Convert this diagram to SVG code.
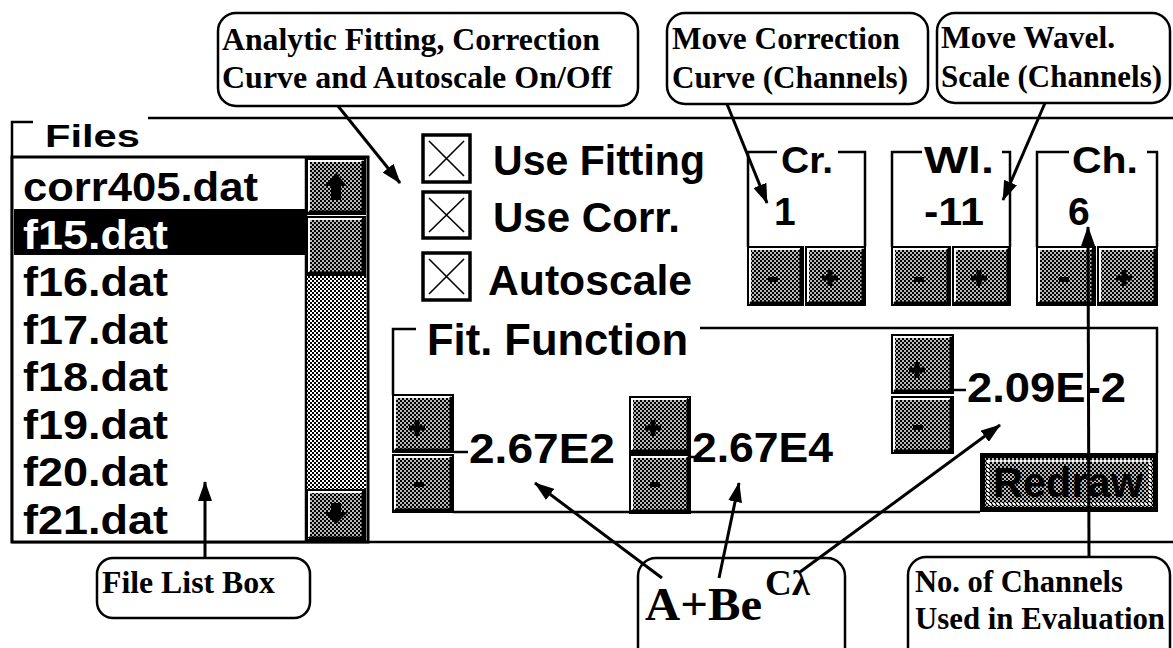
<svg xmlns="http://www.w3.org/2000/svg" width="1173" height="648" viewBox="0 0 1173 648">
<defs>
<pattern id="dw" width="4" height="4" patternUnits="userSpaceOnUse"><rect width="4" height="4" fill="#fff"/><rect width="2" height="2" fill="#000"/><rect x="2" y="2" width="2" height="2" fill="#000"/></pattern>
<pattern id="dg" width="4" height="4" patternUnits="userSpaceOnUse"><rect width="4" height="4" fill="#b8b8b8"/><rect width="2" height="2" fill="#000"/><rect x="2" y="2" width="2" height="2" fill="#000"/></pattern>
<marker id="ah" viewBox="0 0 20 14" refX="19" refY="7" markerWidth="20" markerHeight="14" markerUnits="userSpaceOnUse" orient="auto"><path d="M0,0 L20,7 L0,14 z" fill="#000"/></marker>
<style>
.ln{stroke:#000;stroke-width:2.5;fill:none}
.bf{fill:url(#dg);stroke:#000;stroke-width:2}
.hi{stroke:#fff;stroke-width:2;fill:none}
.sh{stroke:#000;stroke-width:3;fill:none}
.gl{fill:#000}
.ui{font-family:"Liberation Sans",Arial,sans-serif;font-weight:bold;fill:#000}
.nv{font-family:"Liberation Sans",Arial,sans-serif;font-weight:bold;fill:#000;font-size:42px}
.cap{font-family:"Liberation Serif","Times New Roman",serif;font-weight:bold;font-size:31px;fill:#000}
.co{fill:#fff;stroke:#000;stroke-width:2.5}
.cb{fill:#fff;stroke:#000;stroke-width:3.5}
.cx{stroke:#000;stroke-width:1.6;fill:none}
.cn{stroke:#000;stroke-width:3;fill:none}
.fl{font-size:41px}
</style>
</defs>
<rect width="1173" height="648" fill="#fff"/>

<g id="window-frame">
<path class="ln" d="M12,542 V122 H33 M148,118 H1173 M12,542 H1173"/>
<text class="ui" x="45" y="147" font-size="31" textLength="95" lengthAdjust="spacingAndGlyphs">Files</text>
</g>

<g id="file-list">
<rect x="12" y="157" width="356" height="385" fill="#fff" stroke="#000" stroke-width="3"/>
<rect x="14" y="209" width="291" height="46" fill="#000"/>
<line class="ln" x1="306" y1="157" x2="306" y2="542"/>
<text class="ui fl" x="23" y="201" textLength="235" lengthAdjust="spacingAndGlyphs">corr405.dat</text>
<text class="ui fl" x="23" y="248.5" textLength="145" lengthAdjust="spacingAndGlyphs" style="fill:#fff">f15.dat</text>
<text class="ui fl" x="23" y="296" textLength="145" lengthAdjust="spacingAndGlyphs">f16.dat</text>
<text class="ui fl" x="23" y="343.5" textLength="145" lengthAdjust="spacingAndGlyphs">f17.dat</text>
<text class="ui fl" x="23" y="391" textLength="145" lengthAdjust="spacingAndGlyphs">f18.dat</text>
<text class="ui fl" x="23" y="438.5" textLength="145" lengthAdjust="spacingAndGlyphs">f19.dat</text>
<text class="ui fl" x="23" y="486" textLength="145" lengthAdjust="spacingAndGlyphs">f20.dat</text>
<text class="ui fl" x="23" y="533.5" textLength="145" lengthAdjust="spacingAndGlyphs">f21.dat</text>
<rect x="307" y="275" width="59" height="215" fill="url(#dw)"/>
<rect class="bf" x="307" y="159" width="58" height="55"/><path class="hi" d="M309,211 V161 H362"/><path class="sh" d="M363,161 V212 H309"/>
<path class="gl" d="M336,173 L347,186 H341 V200 H331 V186 H325 z"/>
<rect class="bf" x="307" y="217" width="58" height="58"/><path class="hi" d="M309,272 V219 H362"/><path class="sh" d="M363,219 V273 H309"/>
<rect class="bf" x="307" y="490" width="58" height="50"/><path class="hi" d="M309,537 V492 H362"/><path class="sh" d="M363,492 V538 H309"/>
<path class="gl" d="M331,503 H341 V512 H348 L336,524 L324,512 H331 z"/>
</g>

<g id="checkboxes">
<rect class="cb" x="423" y="135" width="47" height="47"/><path class="cx" d="M429,141 L464,176 M464,141 L429,176"/>
<text class="ui" x="493" y="175" font-size="42" textLength="212" lengthAdjust="spacingAndGlyphs">Use Fitting</text>
<rect class="cb" x="423" y="192" width="47" height="46"/><path class="cx" d="M429,198 L464,232 M464,198 L429,232"/>
<text class="ui" x="493" y="232" font-size="42" textLength="187" lengthAdjust="spacingAndGlyphs">Use Corr.</text>
<rect class="cb" x="423" y="253" width="47" height="47"/><path class="cx" d="M429,259 L464,294 M464,259 L429,294"/>
<text class="ui" x="488" y="295" font-size="42" textLength="204" lengthAdjust="spacingAndGlyphs">Autoscale</text>
</g>

<g id="cr-control">
<path class="ln" d="M777,152 H748 V247 M838,152 H865 V247"/>
<text class="ui" x="781" y="173" font-size="36" textLength="52" lengthAdjust="spacingAndGlyphs">Cr.</text>
<text class="ui" x="774" y="225" font-size="39">1</text>
<rect class="bf" x="748" y="247" width="55" height="58"/><path class="hi" d="M750,302 V249 H800"/><path class="sh" d="M801,249 V303 H750"/>
<rect class="gl" x="768" y="277" width="10" height="5"/>
<rect class="bf" x="806" y="247" width="59" height="58"/><path class="hi" d="M808,302 V249 H862"/><path class="sh" d="M863,249 V303 H808"/>
<path class="gl" d="M822,275.5 h16 v5 h-16z M827.5,270 h5 v16 h-5z"/>
</g>

<g id="wl-control">
<path class="ln" d="M922,152 H892 V247 M1002,152 H1010 V247"/>
<text class="ui" x="924" y="173" font-size="36" textLength="70" lengthAdjust="spacingAndGlyphs">Wl.</text>
<text class="ui" x="924" y="225" font-size="39" textLength="60" lengthAdjust="spacingAndGlyphs">-11</text>
<rect class="bf" x="892" y="247" width="58" height="58"/><path class="hi" d="M894,302 V249 H947"/><path class="sh" d="M948,249 V303 H894"/>
<rect class="gl" x="914" y="277" width="10" height="5"/>
<rect class="bf" x="953" y="247" width="57" height="58"/><path class="hi" d="M955,302 V249 H1007"/><path class="sh" d="M1008,249 V303 H955"/>
<path class="gl" d="M971,275.5 h16 v5 h-16z M976.5,270 h5 v16 h-5z"/>
</g>

<g id="ch-control">
<path class="ln" d="M1069,152 H1037 V247 M1147,152 H1157 V247"/>
<text class="ui" x="1072" y="173" font-size="36" textLength="66" lengthAdjust="spacingAndGlyphs">Ch.</text>
<text class="ui" x="1068" y="225" font-size="39">6</text>
<rect class="bf" x="1037" y="247" width="58" height="58"/><path class="hi" d="M1039,302 V249 H1092"/><path class="sh" d="M1093,249 V303 H1039"/>
<rect class="gl" x="1059" y="277" width="10" height="5"/>
<rect class="bf" x="1098" y="247" width="59" height="58"/><path class="hi" d="M1100,302 V249 H1154"/><path class="sh" d="M1155,249 V303 H1100"/>
<path class="gl" d="M1116,275.5 h16 v5 h-16z M1121.5,270 h5 v16 h-5z"/>
</g>

<g id="fit-function">
<path class="ln" d="M416,329 H393 V395 M700,328 H1157 V453 M453,512 H980"/>
<text class="ui" x="427" y="355" font-size="44" textLength="261" lengthAdjust="spacingAndGlyphs">Fit. Function</text>
<g id="param-a">
<rect class="bf" x="393" y="395" width="60" height="57"/><path class="hi" d="M395,449 V397 H450"/><path class="sh" d="M451,397 V450 H395"/>
<path class="gl" d="M409,425.5 h16 v5 h-16z M414.5,420 h5 v16 h-5z"/>
<rect class="bf" x="393" y="455" width="60" height="57"/><path class="hi" d="M395,509 V457 H450"/><path class="sh" d="M451,457 V510 H395"/>
<rect class="gl" x="414" y="482" width="10" height="5"/>
<line class="ln" x1="454" y1="452" x2="468" y2="452" stroke-width="2"/>
<text class="nv" x="469" y="463" textLength="146" lengthAdjust="spacingAndGlyphs">2.67E2</text>
</g>
<g id="param-b">
<rect class="bf" x="630" y="397" width="60" height="56"/><path class="hi" d="M632,450 V399 H687"/><path class="sh" d="M688,399 V451 H632"/>
<path class="gl" d="M645,425.5 h16 v5 h-16z M650.5,420 h5 v16 h-5z"/>
<rect class="bf" x="630" y="455" width="60" height="58"/><path class="hi" d="M632,510 V457 H687"/><path class="sh" d="M688,457 V511 H632"/>
<rect class="gl" x="650" y="482" width="10" height="5"/>
<line class="ln" x1="690" y1="457" x2="700" y2="457" stroke-width="2"/>
<text class="nv" x="692" y="462" textLength="141" lengthAdjust="spacingAndGlyphs">2.67E4</text>
</g>
<g id="param-c">
<rect class="bf" x="892" y="335" width="61" height="58"/><path class="hi" d="M894,390 V337 H950"/><path class="sh" d="M951,337 V391 H894"/>
<path class="gl" d="M909,367.5 h16 v5 h-16z M914.5,362 h5 v16 h-5z"/>
<rect class="bf" x="892" y="397" width="61" height="56"/><path class="hi" d="M894,450 V399 H950"/><path class="sh" d="M951,399 V451 H894"/>
<rect class="gl" x="913" y="425" width="10" height="5"/>
<line class="ln" x1="953" y1="390" x2="966" y2="390" stroke-width="2"/>
<text class="nv" x="967" y="402" textLength="159" lengthAdjust="spacingAndGlyphs">2.09E-2</text>
</g>
<g id="redraw">
<rect x="982.5" y="455.5" width="173" height="54" fill="url(#dg)" stroke="#000" stroke-width="5"/>
<rect x="988" y="461" width="162" height="43" fill="none" stroke="#fff" stroke-width="2" stroke-dasharray="2 2"/>
<text class="ui" x="993" y="497" font-size="42" textLength="150" lengthAdjust="spacingAndGlyphs">Redraw</text>
</g>
</g>

<g id="callout-fitting">
<rect class="co" x="218" y="13" width="420" height="93" rx="18"/>
<text class="cap" x="222" y="50" textLength="378" lengthAdjust="spacingAndGlyphs">Analytic Fitting, Correction</text>
<text class="cap" x="222" y="88" textLength="390" lengthAdjust="spacingAndGlyphs">Curve and Autoscale On/Off</text>
</g>
<g id="callout-correction">
<rect class="co" x="667" y="13" width="261" height="91" rx="18"/>
<text class="cap" x="672" y="49" textLength="228" lengthAdjust="spacingAndGlyphs">Move Correction</text>
<text class="cap" x="672" y="88" textLength="236" lengthAdjust="spacingAndGlyphs">Curve (Channels)</text>
</g>
<g id="callout-wavel">
<rect class="co" x="937" y="13" width="233" height="90" rx="18"/>
<text class="cap" x="941" y="48" textLength="174" lengthAdjust="spacingAndGlyphs">Move Wavel.</text>
<text class="cap" x="941" y="87" textLength="221" lengthAdjust="spacingAndGlyphs">Scale (Channels)</text>
</g>
<g id="callout-filelist">
<rect class="co" x="97" y="558" width="213" height="60" rx="16"/>
<text class="cap" x="102" y="593" textLength="173" lengthAdjust="spacingAndGlyphs">File List Box</text>
</g>
<g id="callout-formula">
<rect class="co" x="638" y="558" width="207" height="110" rx="18"/>
<text class="cap" x="645" y="620" style="font-size:47px" textLength="117" lengthAdjust="spacingAndGlyphs">A+Be</text>
<text class="cap" x="765" y="595" style="font-size:35px" textLength="45" lengthAdjust="spacingAndGlyphs">Cλ</text>
</g>
<g id="callout-channels">
<rect class="co" x="908" y="557" width="262" height="110" rx="18"/>
<text class="cap" x="915" y="592" textLength="208" lengthAdjust="spacingAndGlyphs">No. of Channels</text>
<text class="cap" x="915" y="629" textLength="250" lengthAdjust="spacingAndGlyphs">Used in Evaluation</text>
</g>

<g id="connectors">
<path class="cn" d="M338,106 L400,183" marker-end="url(#ah)"/>
<path class="cn" d="M727,104 L767,203" marker-end="url(#ah)"/>
<path class="cn" d="M1045,103 L1003,200" marker-end="url(#ah)"/>
<path class="cn" d="M1089,557 L1088,227" stroke-width="2.5" marker-end="url(#ah)"/>
<path class="cn" d="M205,558 L205,482" marker-end="url(#ah)"/>
<path class="cn" d="M662,578 L535,483" marker-end="url(#ah)"/>
<path class="cn" d="M719,578 L739,483" marker-end="url(#ah)"/>
<path class="cn" d="M800,572 L1000,425" marker-end="url(#ah)"/>
</g>
</svg>
